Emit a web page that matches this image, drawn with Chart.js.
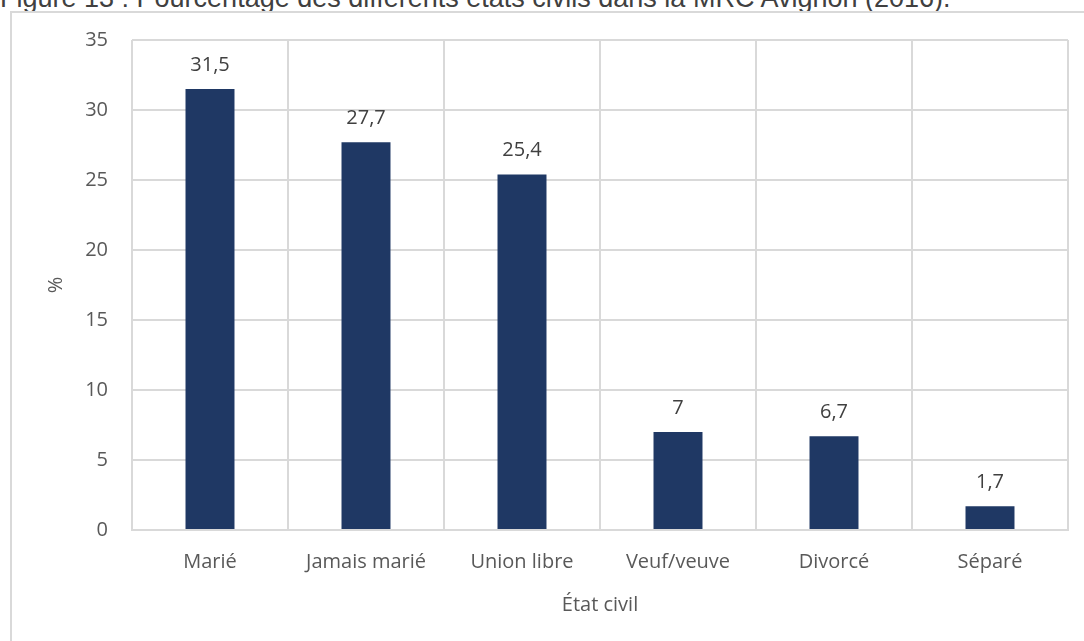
<!DOCTYPE html>
<html>
<head>
<meta charset="utf-8">
<script src="https://cdn.jsdelivr.net/npm/chart.js@4"></script>
<style>
  html, body { margin: 0; padding: 0; background: #fff; overflow: hidden; }
  #title {
    position: absolute; left: 0; top: -15px;
    font-family: "Liberation Sans", Arial, sans-serif; font-size: 27px; line-height: 27px; color: #404040;
    white-space: nowrap;
  }
  #frame {
    position: absolute; left: 10px; top: 11px; width: 1090px; height: 640px;
    border: 2px solid #d9d9d9;
  }
  #wrap { position: absolute; left: 0; top: 0; width: 1084px; height: 641px; }
</style>
</head>
<body>
<div id="title">Figure 13 : Pourcentage des différents états civils dans la MRC Avignon (2016).</div>
<div id="frame"></div>
<div id="wrap"><canvas id="chart"></canvas></div>
<script>
const categories = ['Marié', 'Jamais marié', 'Union libre', 'Veuf/veuve', 'Divorcé', 'Séparé'];
const values = [31.5, 27.7, 25.4, 7, 6.7, 1.7];
const yTicks = [0, 5, 10, 15, 20, 25, 30, 35];

const font = { family: '"Open Sans", sans-serif', size: 20 };
const textColor = '#595959';

// value labels above each bar, comma as decimal separator
const barLabels = {
    id: 'barLabels',
    afterDatasetsDraw(chart) {
        const ctx = chart.ctx;
        const meta = chart.getDatasetMeta(0);
        ctx.save();
        ctx.font = '20px "Open Sans", sans-serif';
        ctx.fillStyle = '#404040';
        ctx.textAlign = 'center';
        ctx.textBaseline = 'alphabetic';
        meta.data.forEach((bar, i) => {
            ctx.fillText(String(values[i]).replace('.', ','), bar.x, bar.y - 18);
        });
        ctx.restore();
    }
};

new Chart(document.getElementById('chart'), {
    type: 'bar',
    data: {
        labels: categories,
        datasets: [{
            data: values,
            backgroundColor: '#1f3864',
            categoryPercentage: 1,
            barPercentage: 0.314
        }]
    },
    options: {
        responsive: true,
        maintainAspectRatio: false,
        animation: false,
        layout: { padding: { left: 40, right: 16, top: 40, bottom: 0 } },
        plugins: { legend: { display: false }, tooltip: { enabled: false } },
        scales: {
            x: {
                offset: true,
                grid: { offset: true, color: '#d9d9d9', lineWidth: 2, drawTicks: false },
                border: { color: '#d9d9d9', width: 2 },
                ticks: { color: textColor, font: font, padding: 20 },
                title: { display: true, text: 'État civil', color: textColor, font: font, padding: { top: 4, bottom: 24 } },
                afterFit(scale) { scale.height = 111; }
            },
            y: {
                min: 0,
                max: 35,
                afterBuildTicks(scale) { scale.ticks = yTicks.map(v => ({ value: v })); },
                grid: { color: '#d9d9d9', lineWidth: 2, drawTicks: false },
                border: { display: false },
                ticks: { color: textColor, font: font, padding: 24 },
                title: { display: true, text: '%', color: textColor, font: font, padding: 4 },
                afterFit(scale) { scale.width = 92; }
            }
        }
    },
    plugins: [barLabels]
});
</script>
</body>
</html>
